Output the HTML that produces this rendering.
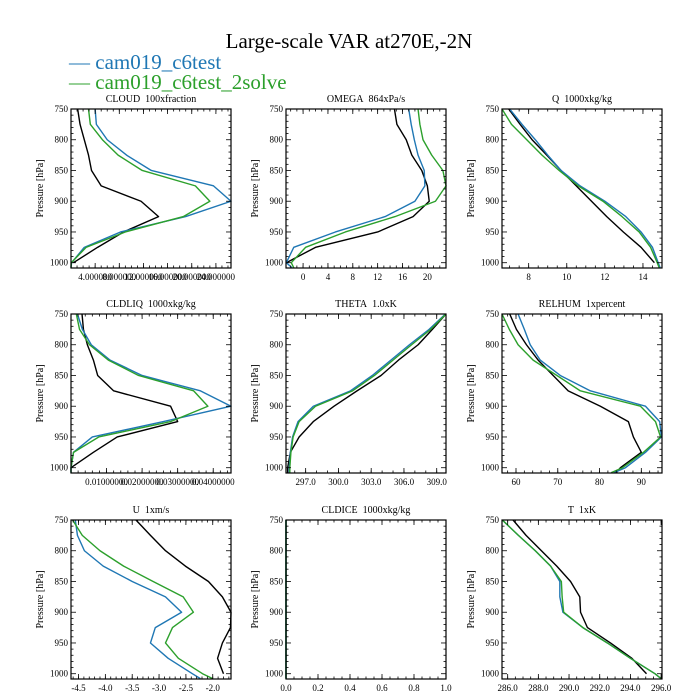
<!DOCTYPE html>
<html><head><meta charset="utf-8">
<style>
html,body{margin:0;padding:0;background:#fff;}
svg{display:block;font-family:"Liberation Serif","DejaVu Serif",serif;}
</style></head>
<body>
<svg id="chart" width="700" height="700" viewBox="0 0 700 700" xmlns="http://www.w3.org/2000/svg">
<text x="349" y="48" font-size="21" text-anchor="middle">Large-scale VAR at270E,-2N</text>
<g>
<text x="69" y="69" font-size="21" fill="#1f77b4">— cam019_c6test</text></g>
<g>
<text x="69" y="89" font-size="21" fill="#2ca02c">— cam019_c6test_2solve</text></g>
</svg>
<script>
const levels = [750,775,800,825,850,875,900,925,950,975,1000,1008];
// CLOUD
const cloudBlack = [1.1,1.5,2.2,2.9,3.4,5.0,11.6,14.5,8.7,4.4,0.4,null];
const cloudBlue  = [4.0,4.2,6.0,9.2,13.3,23.6,26.5,19.0,8.2,2.2,0.1,0];
const cloudGreen = [2.9,3.2,5.2,7.8,11.8,20.6,23.0,18.6,9.0,2.5,0.05,0];
// OMEGA
const omegaBlack = [14.7,15.1,16.6,17.5,19.1,20.0,20.3,17.7,12.0,2.0,-2.7,null];
const omegaBlue  = [17.0,17.4,17.9,18.5,19.5,19.6,18.0,13.2,5.2,-1.5,-2.7,-1.8];
const omegaGreen = [18.5,18.8,19.3,20.7,22.5,23.0,21.3,14.8,6.8,0.4,-1.9,-1.5];
// Q
const qBlack = [6.95,7.55,8.18,8.95,9.7,10.5,11.3,12.1,12.97,13.9,14.6,null];
const qBlue  = [7.0,7.65,8.35,9.0,9.7,10.7,12.0,13.1,13.9,14.5,14.8,14.9];
const qGreen = [6.6,7.1,7.9,8.7,9.6,10.6,11.9,12.9,13.8,14.4,14.75,14.85];
// CLDLIQ
const liqBlack = [0.0031,0.0035,0.0046,0.0063,0.0075,0.012,0.028,0.030,0.013,0.0063,0,null];
const liqBlue  = [0.0018,0.0032,0.0057,0.011,0.020,0.0364,0.045,0.026,0.006,0.0007,0,0];
const liqGreen = [0.0015,0.0024,0.0052,0.0105,0.019,0.0345,0.0385,0.028,0.0078,0.0007,0,0];
// THETA
const thBlack = [309.85,308.6,307.3,305.5,303.9,301.7,299.6,297.7,296.4,295.6,295.35,295.35];
const thBlue  = [309.8,308.3,306.5,304.8,303.1,301.1,297.7,296.3,295.8,295.6,295.5,295.5];
const thGreen = [309.85,308.45,306.7,305.0,303.3,301.3,297.9,296.4,295.85,295.65,295.55,295.55];
// RELHUM
const rhBlack = [58.5,60.1,62.5,65.3,68.9,72.5,80.2,86.9,88.1,90.0,85.0,84.0];
const rhBlue  = [60.5,62.0,63.4,65.8,70.6,77.8,91.0,94.4,94.8,91.0,86.2,83.5];
const rhGreen = [56.65,58.4,60.5,64.1,69.8,75.4,89.8,93.4,94.6,90.5,85.5,82.8];
// U
const uBlack = [-3.43,-3.16,-2.88,-2.51,-2.08,-1.82,-1.66,-1.67,-1.82,-1.91,-1.80,null];
const uBlue  = [-4.56,-4.52,-4.39,-4.04,-3.50,-2.88,-2.58,-3.07,-3.16,-2.83,-2.38,-2.23];
const uGreen = [-4.61,-4.43,-4.10,-3.66,-3.11,-2.55,-2.36,-2.75,-2.88,-2.64,-2.19,-2.0];
// CLDICE
const iceBlack = [0,0,0,0,0,0,0,0,0,0,0,0];
const iceBlue  = [0,0,0,0,0,0,0,0,0,0,0,0];
const iceGreen = [0,0,0,0,0,0,0,0,0,0,0,0];
// T
const tBlack = [286.35,287.2,288.2,289.2,290.1,290.7,290.75,291.2,292.7,294.1,295.05,null];
const tBlue  = [285.65,286.7,287.8,288.8,289.4,289.4,289.6,290.9,292.5,294.0,295.6,296.0];
const tGreen = [285.65,286.7,287.8,288.8,289.5,289.55,289.65,290.9,292.5,294.0,295.6,296.0];

const yTicks = [750,800,850,900,950,1000];
const cloudTicks = [4,8,12,16,20,24];
const omegaTicks = [0,4,8,12,16,20];
const qTicks = [8,10,12,14];
const liqTicks = [0.01,0.02,0.03,0.04];
const thTicks = [297,300,303,306,309];
const rhTicks = [60,70,80,90];
const uTicks = [-4.5,-4.0,-3.5,-3.0,-2.5,-2.0];
const iceTicks = [0,0.2,0.4,0.6,0.8,1.0];
const tTicks = [286,288,290,292,294,296];

const NS="http://www.w3.org/2000/svg";
const svg=document.getElementById('chart');
function mk(tag,attrs,parent){const e=document.createElementNS(NS,tag);for(const k in attrs)e.setAttribute(k,attrs[k]);(parent||svg).appendChild(e);return e;}

const colX=[71,286,502], rowY=[109,314,520], W=160, H=159;
const P0=750,P1=1008.6;
const SP='\u00a0\u00a0';
const panels=[
 {id:'cloud',title:'CLOUD'+SP+'100xfraction',dom:[0,26.5],ticks:cloudTicks,fmt:v=>v.toFixed(6),minor:1,s:[cloudBlack,cloudBlue,cloudGreen]},
 {id:'omega',title:'OMEGA'+SP+'864xPa/s',dom:[-2.75,23],ticks:omegaTicks,fmt:v=>String(v),minor:1,s:[omegaBlack,omegaBlue,omegaGreen]},
 {id:'q',title:'Q'+SP+'1000xkg/kg',dom:[6.6,15.0],ticks:qTicks,fmt:v=>String(v),minor:0.5,s:[qBlack,qBlue,qGreen]},
 {id:'cldliq',title:'CLDLIQ'+SP+'1000xkg/kg',dom:[0,0.045],ticks:liqTicks,fmt:v=>v.toFixed(8),minor:0.002,s:[liqBlack,liqBlue,liqGreen]},
 {id:'theta',title:'THETA'+SP+'1.0xK',dom:[295.2,309.85],ticks:thTicks,fmt:v=>v.toFixed(1),minor:1,s:[thBlack,thBlue,thGreen]},
 {id:'relhum',title:'RELHUM'+SP+'1xpercent',dom:[56.65,94.95],ticks:rhTicks,fmt:v=>String(v),minor:2,s:[rhBlack,rhBlue,rhGreen]},
 {id:'u',title:'U'+SP+'1xm/s',dom:[-4.64,-1.66],ticks:uTicks,fmt:v=>v.toFixed(1),minor:0.1,s:[uBlack,uBlue,uGreen]},
 {id:'cldice',title:'CLDICE'+SP+'1000xkg/kg',dom:[0,1],ticks:iceTicks,fmt:v=>v.toFixed(1),minor:0.05,s:[iceBlack,iceBlue,iceGreen]},
 {id:'t',title:'T'+SP+'1xK',dom:[285.63,296.06],ticks:tTicks,fmt:v=>v.toFixed(1),minor:0.5,s:[tBlack,tBlue,tGreen]}
];
const colors=['#000000','#1f77b4','#2ca02c'];
const sNames=['observed','cam019-c6test','cam019-c6test-2solve'];

panels.forEach((p,i)=>{
  const x0=colX[i%3], y0=rowY[Math.floor(i/3)];
  const g=mk('g',{});
  
  
  const xs=v=>x0+(v-p.dom[0])/(p.dom[1]-p.dom[0])*W;
  const ys=v=>y0+(v-P0)/(P1-P0)*H;
  const t=mk('text',{x:x0+W/2,y:y0-7,'font-size':10,'text-anchor':'middle'},g);
  t.textContent=p.title;
  
  
  const cp=mk('clipPath',{id:'clip'+i},g);
  mk('rect',{x:x0-1,y:y0-1,width:W+2,height:H+2},cp);
  p.s.forEach((arr,k)=>{
    let d='';
    arr.forEach((v,j)=>{ if(v===null) return; d+=(d?'L':'M')+xs(v).toFixed(2)+','+ys(levels[j]).toFixed(2); });
    const c=mk('path',{d:d,fill:'none',stroke:colors[k],'stroke-width':1.4,'stroke-linejoin':'round','clip-path':'url(#clip'+i+')'},g);
    
    
  });
  const fr=mk('rect',{x:x0,y:y0,width:W,height:H,fill:'none',stroke:'#000','stroke-width':1.2},g);
  
  
  for(let v=750;v<=1000;v+=10){
    const y=ys(v), L=(v%50===0)?5:2.5;
    mk('line',{x1:x0,x2:x0+L,y1:y,y2:y,stroke:'#000','stroke-width':0.8},g);
    mk('line',{x1:x0+W,x2:x0+W-L,y1:y,y2:y,stroke:'#000','stroke-width':0.8},g);
  }
  yTicks.forEach(v=>{
    const lt=mk('text',{x:x0-3,y:ys(v)+3,'font-size':9,'text-anchor':'end'},g);
    lt.textContent=v;
    
    
  });
  const yt=mk('text',{x:0,y:0,'font-size':10,'text-anchor':'middle',transform:'translate('+(x0-28)+','+(y0+H/2)+') rotate(-90)'},g);
  yt.textContent='Pressure [hPa]';
  
  
  const m=p.minor;
  for(let v=Math.ceil(p.dom[0]/m)*m; v<=p.dom[1]+1e-9; v+=m){
    const x=xs(v);
    mk('line',{x1:x,x2:x,y1:y0+H,y2:y0+H-2.5,stroke:'#000','stroke-width':0.8},g);
    mk('line',{x1:x,x2:x,y1:y0,y2:y0+2.5,stroke:'#000','stroke-width':0.8},g);
  }
  p.ticks.forEach(v=>{
    const x=xs(v);
    mk('line',{x1:x,x2:x,y1:y0+H,y2:y0+H-5,stroke:'#000','stroke-width':0.8},g);
    mk('line',{x1:x,x2:x,y1:y0,y2:y0+5,stroke:'#000','stroke-width':0.8},g);
    const lt=mk('text',{x:x,y:y0+H+12,'font-size':9,'text-anchor':'middle'},g);
    lt.textContent=p.fmt(v);
    
    
  });
});
</script>
</body></html>
